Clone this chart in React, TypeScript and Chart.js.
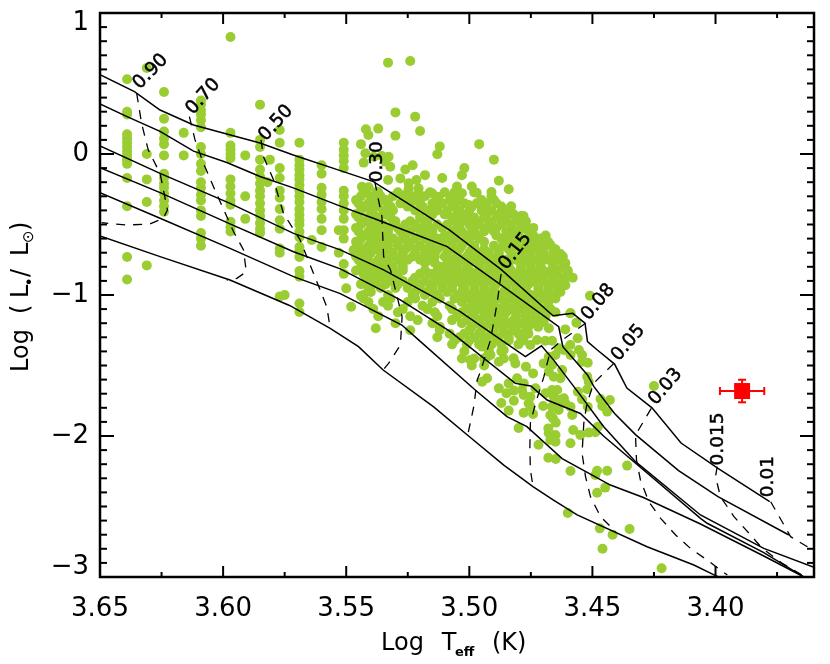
import React, { useEffect, useRef } from "react";
import { Chart, registerables } from "chart.js";

Chart.register(...registerables);

const FONT = '"DejaVu Sans", sans-serif';
const GREEN = "#9ACD32";

type P = [number, number];

// Tick values
const xMajorTicks = [3.65, 3.6, 3.55, 3.5, 3.45, 3.4];
const xMinorTicks = [3.625, 3.575, 3.525, 3.475, 3.425, 3.375];
const yMajorTicks = [1, 0, -1, -2, -3];
const yMinorTicks = [
  0.9, 0.8, 0.7, 0.6, 0.5, 0.4, 0.3, 0.2, 0.1, -0.1, -0.2, -0.3, -0.4, -0.5, -0.6, -0.7, -0.8, -0.9,
  -1.1, -1.2, -1.3, -1.4, -1.5, -1.6, -1.7, -1.8, -1.9, -2.1, -2.2, -2.3, -2.4, -2.5, -2.6, -2.7, -2.8, -2.9,
];

// Isochrones (solid)
const isoA: P[] = [[3.65,.562],[3.636,.442],[3.6256,.312],[3.612,.206],[3.5985,.142],[3.585,.078],[3.5715,-.007],[3.5524,-.118],[3.539,-.196],[3.525,-.35],[3.508,-.54],[3.487,-.82],[3.466,-1.147],[3.458,-1.13],[3.453,-1.2],[3.452,-1.33],[3.448,-1.39],[3.441,-1.49],[3.436,-1.66],[3.4258,-1.8],[3.414,-2.05],[3.399,-2.23],[3.378,-2.466]];
const isoB: P[] = [[3.65,.355],[3.639,.265],[3.6256,.16],[3.612,.02],[3.5985,-.06],[3.585,-.16],[3.5715,-.24],[3.5524,-.37],[3.539,-.456],[3.525,-.55],[3.509,-.657],[3.489,-.905],[3.4637,-1.225],[3.462,-1.367],[3.452,-1.567],[3.4494,-1.65],[3.441,-1.84],[3.4325,-1.99],[3.415,-2.246],[3.399,-2.43],[3.3702,-2.702]];
const isoC: P[] = [[3.65,.057],[3.6256,-.137],[3.5972,-.35],[3.5714,-.563],[3.5524,-.68],[3.535,-.82],[3.5037,-1.118],[3.4772,-1.437],[3.4707,-1.36],[3.4658,-1.46],[3.4549,-1.71],[3.4454,-1.934],[3.4325,-2.182],[3.4061,-2.56],[3.3804,-2.797],[3.36,-2.931]];
const isoD: P[] = [[3.65,-.097],[3.6256,-.274],[3.5972,-.496],[3.5714,-.693],[3.5524,-.815],[3.528,-1.035],[3.5077,-1.26],[3.4813,-1.627],[3.475,-1.645],[3.4684,-1.745],[3.4549,-1.84],[3.4455,-2.0],[3.434,-2.17],[3.4061,-2.584],[3.4034,-2.619],[3.3804,-2.827],[3.3654,-2.986],[3.3634,-3.01]];
const isoE: P[] = [[3.65,-.274],[3.6256,-.456],[3.5972,-.669],[3.5714,-.87],[3.5524,-.99],[3.5274,-1.213],[3.5205,-1.32],[3.4976,-1.674],[3.4847,-1.863],[3.4766,-1.934],[3.4623,-2.16],[3.4427,-2.348],[3.4293,-2.436],[3.4061,-2.624],[3.3804,-2.851],[3.3641,-3.0]];
const isoF: P[] = [[3.65,-.582],[3.6256,-.728],[3.5972,-.894],[3.5728,-1.076],[3.5565,-1.236],[3.545,-1.366],[3.535,-1.532],[3.5146,-1.792],[3.5003,-2.0],[3.486,-2.206],[3.474,-2.36],[3.4658,-2.454],[3.4562,-2.56],[3.4278,-2.785],[3.4088,-2.915],[3.4,-2.99],[3.3966,-3.014]];
const isochrones = [isoA, isoB, isoC, isoD, isoE, isoF];

// Mass tracks (dashed)
const m090: P[] = [[3.6351,.43],[3.6331,.217],[3.6304,.028],[3.6256,-.137],[3.6226,-.397],[3.6243,-.456],[3.6297,-.496],[3.6392,-.504],[3.6493,-.487]];
const m070: P[] = [[3.6137,.265],[3.6114,.1],[3.608,-.066],[3.6039,-.232],[3.5958,-.55],[3.5917,-.68],[3.5906,-.835],[3.5944,-.882],[3.5985,-.894]];
const m050: P[] = [[3.5846,.1],[3.5836,-.019],[3.5795,-.184],[3.5755,-.42],[3.5687,-.61],[3.5633,-.846],[3.5579,-1.083],[3.5565,-1.236]];
const m030: P[] = [[3.5384,-.196],[3.5355,-.444],[3.5348,-.728],[3.532,-.823],[3.5273,-1.154],[3.528,-1.355],[3.5328,-1.485],[3.535,-1.532]];
const m015: P[] = [[3.4871,-.851],[3.4887,-1.059],[3.4914,-1.319],[3.4955,-1.544],[3.4968,-1.603],[3.4982,-1.792],[3.5005,-1.981]];
const m008: P[] = [[3.4528,-1.2],[3.4623,-1.32],[3.467,-1.39],[3.4697,-1.579],[3.4731,-1.768],[3.4752,-1.91],[3.4754,-2.076],[3.4752,-2.24],[3.4741,-2.36]];
const m005: P[] = [[3.4413,-1.485],[3.4495,-1.626],[3.4522,-1.768],[3.4535,-1.91],[3.4542,-2.123],[3.4528,-2.288],[3.4508,-2.43],[3.4467,-2.572],[3.4406,-2.678]];
const m003: P[] = [[3.4261,-1.804],[3.4325,-1.993],[3.4321,-2.17],[3.4305,-2.312],[3.4271,-2.466],[3.4223,-2.584],[3.4162,-2.702],[3.4102,-2.797],[3.4034,-2.88],[3.3952,-2.986]];
const m0015: P[] = [[3.3993,-2.217],[3.4,-2.288],[3.398,-2.43],[3.3925,-2.572],[3.3864,-2.69],[3.381,-2.797],[3.3729,-2.903],[3.3648,-2.986]];
const m001: P[] = [[3.3776,-2.466],[3.3749,-2.548],[3.3695,-2.714],[3.3627,-2.785],[3.36,-2.82]];
const massTracks = [m090, m070, m050, m030, m015, m008, m005, m003, m0015, m001];

// Mass labels
const massLabels = ["0.90", "0.70", "0.50", "0.30", "0.15", "0.08", "0.05", "0.03", "0.015", "0.01"];
const massLabelX = [3.6294, 3.6081, 3.5785, 3.5375, 3.4813, 3.4476, 3.4354, 3.4203, 3.3988, 3.3785];
const massLabelY = [0.584, 0.407, 0.219, -0.055, -0.69, -1.05, -1.339, -1.651, -2.021, -2.288];
const massLabelDeg = [-46, -48, -48, -90, -52, -50, -50, -50, -90, -90];

// Stars in vertical strips (cool side): temperature, then luminosities
const strips: [number, number[]][] = [
  [3.639, [.53,.3,.28,.14,.11,.08,.05,.02,-.01,-.04,-.07,-.17,-.37,-.73,-.89]],
  [3.631, [.61,0,-.18,-.34,-.79]],
  [3.624, [.44,.25,.16,.11,.07,-.01,-.14,-.17,-.21,-.24,-.28,-.33,-.37,-.41]],
  [3.616, [.15,-.01]],
  [3.609, [.38,.35,.31,.28,.24,.19,.05,0,-.07,-.12,-.2,-.24,-.29,-.33,-.4,-.44,-.56,-.6,-.65]],
  [3.597, [.83,.15,.06,.03,0,-.03,-.18,-.23,-.28,-.33,-.36,-.48,-.52,-.55]],
  [3.591, [-.01,-.3,-.46]],
  [3.585, [.35,.1,.05,-.04,-.11,-.16,-.21,-.26,-.3,-.35,-.4,-.44,-.49,-.53,-.56]],
  [3.581, [-.04]],
  [3.582, [-.2]],
  [3.577, [.17,.08,-.1,-.17,-.26,-.31,-.39,-.47,-.53,-.67,-.7,-1.01]],
  [3.575, [-1.0]],
  [3.569, [.08,-.04,-.08,-.11,-.15,-.18,-.22,-.26,-.3,-.34,-.39,-.43,-.47,-.5,-.55,-.59,-.66,-.69,-.73,-.83,-.87,-1.06,-1.12]],
  [3.564, [-.61]],
  [3.56, [-.08,-.14,-.24,-.29,-.34,-.39,-.46,-.54,-.66]],
  [3.553, [-.54,-.7]],
  [3.551, [.08,.03,-.01,-.05,-.1,-.26,-.3,-.35,-.4,-.46,-.54,-.6,-.78,-.85]],
];

// Dense part of the cloud: luminosity, then temperatures
const cloudRows: [number, number[]][] = [
  [-.272, [3.543,3.537,3.529,3.525,3.516,3.51,3.506,3.498]],
  [-.30, [3.544,3.54,3.536,3.531,3.527,3.523,3.518]],
  [-.327, [3.546,3.539,3.534,3.526,3.521,3.513,3.508,3.504,3.495,3.49]],
  [-.35, [3.545,3.541,3.537,3.533,3.528,3.524,3.52,3.515,3.511,3.507,3.502,3.497,3.493,3.489]],
  [-.373, [3.543,3.538,3.532,3.525,3.519,3.514,3.506,3.499,3.494,3.487]],
  [-.40, [3.544,3.54,3.535,3.531,3.522,3.517,3.513,3.509,3.504,3.5,3.495,3.491,3.486,3.484]],
  [-.428, [3.546,3.539,3.534,3.515,3.51,3.505,3.501,3.493,3.488,3.482]],
  [-.45, [3.545,3.541,3.537,3.532,3.52,3.516,3.507,3.503,3.498,3.494,3.489,3.485,3.481]],
  [-.477, [3.542,3.537,3.53,3.524,3.517,3.506,3.501,3.497,3.492,3.486,3.48,3.477]],
  [-.50, [3.544,3.54,3.535,3.531,3.526,3.522,3.518,3.513,3.509,3.504,3.5,3.496,3.491,3.487,3.483,3.479]],
  [-.524, [3.546,3.538,3.533,3.529,3.521,3.516,3.511,3.505,3.499,3.493,3.489,3.483,3.478,3.474]],
  [-.55, [3.545,3.541,3.537,3.533,3.528,3.524,3.519,3.515,3.507,3.503,3.498,3.494,3.49,3.485,3.481,3.476]],
  [-.578, [3.542,3.538,3.533,3.526,3.52,3.516,3.51,3.506,3.501,3.497,3.489,3.484,3.48,3.474,3.469]],
  [-.60, [3.544,3.54,3.536,3.531,3.527,3.522,3.518,3.513,3.509,3.505,3.5,3.496,3.487,3.483,3.479,3.475,3.471]],
  [-.623, [3.546,3.539,3.534,3.529,3.525,3.515,3.511,3.507,3.502,3.494,3.485,3.481,3.476,3.472,3.468]],
  [-.65, [3.545,3.541,3.537,3.533,3.529,3.524,3.52,3.516,3.511,3.507,3.503,3.498,3.49,3.486,3.481,3.477,3.473,3.469]],
  [-.676, [3.543,3.538,3.534,3.526,3.522,3.517,3.513,3.508,3.504,3.499,3.494,3.488,3.484,3.478,3.474,3.47,3.465]],
  [-.70, [3.544,3.54,3.535,3.531,3.527,3.522,3.518,3.514,3.509,3.505,3.5,3.496,3.492,3.488,3.483,3.479,3.475,3.471,3.466]],
  [-.727, [3.546,3.542,3.536,3.531,3.527,3.523,3.518,3.514,3.51,3.505,3.501,3.497,3.492,3.488,3.483,3.479,3.475,3.47,3.466,3.462]],
  [-.75, [3.545,3.541,3.537,3.533,3.529,3.525,3.52,3.516,3.507,3.503,3.499,3.494,3.49,3.486,3.481,3.477,3.473,3.468,3.464]],
  [-.773, [3.543,3.538,3.534,3.527,3.518,3.514,3.509,3.505,3.5,3.496,3.492,3.488,3.484,3.479,3.475,3.471,3.466,3.461]],
  [-.80, [3.544,3.54,3.535,3.531,3.527,3.512,3.508,3.505,3.501,3.496,3.492,3.488,3.484,3.479,3.475,3.471,3.466,3.462]],
  [-.826, [3.546,3.541,3.537,3.532,3.527,3.518,3.513,3.509,3.505,3.5,3.496,3.491,3.487,3.483,3.479,3.474,3.47,3.465,3.46]],
  [-.85, [3.543,3.539,3.534,3.529,3.52,3.516,3.511,3.507,3.503,3.498,3.494,3.49,3.485,3.481,3.477,3.473,3.468,3.464,3.46]],
  [-.877, [3.541,3.536,3.531,3.522,3.514,3.509,3.505,3.501,3.496,3.492,3.487,3.483,3.479,3.475,3.471,3.466,3.461,3.458]],
  [-.90, [3.542,3.538,3.532,3.527,3.523,3.518,3.513,3.509,3.505,3.5,3.496,3.492,3.488,3.483,3.479,3.474,3.47,3.466,3.462]],
  [-.923, [3.544,3.539,3.534,3.529,3.521,3.516,3.511,3.507,3.503,3.498,3.494,3.489,3.485,3.481,3.476,3.472,3.467,3.463]],
  [-.95, [3.541,3.536,3.53,3.525,3.52,3.515,3.511,3.507,3.502,3.498,3.494,3.49,3.485,3.481,3.477,3.472,3.468,3.464]],
  [-.978, [3.54,3.522,3.517,3.515,3.509,3.503,3.498,3.494,3.49,3.486,3.481,3.477,3.472,3.468,3.463]],
  [-1.0, [3.543,3.533,3.523,3.518,3.513,3.505,3.5,3.496,3.492,3.488,3.483,3.479,3.475,3.47,3.466]],
  [-1.024, [3.543,3.532,3.522,3.512,3.506,3.501,3.496,3.492,3.487,3.483,3.479,3.474,3.47,3.465]],
  [-1.05, [3.541,3.535,3.525,3.515,3.503,3.498,3.494,3.49,3.485,3.481,3.477,3.473,3.468]],
  [-1.076, [3.533,3.519,3.508,3.499,3.494,3.49,3.486,3.481,3.477,3.472,3.468]],
  [-1.10, [3.539,3.527,3.517,3.507,3.501,3.496,3.492,3.488,3.483,3.479,3.475,3.471,3.467]],
  [-1.123, [3.529,3.514,3.503,3.498,3.493,3.489,3.485,3.481,3.477,3.473,3.469,3.465]],
  [-1.15, [3.537,3.524,3.513,3.505,3.499,3.494,3.49,3.486,3.481,3.477,3.473,3.469]],
  [-1.178, [3.521,3.507,3.501,3.496,3.491,3.487,3.482,3.477,3.474,3.47]],
  [-1.20, [3.53,3.515,3.503,3.497,3.492,3.488,3.484,3.479,3.475,3.471]],
  [-1.226, [3.512,3.499,3.494,3.49,3.486,3.481,3.476,3.472]],
  [-1.25, [3.524,3.512,3.5,3.495,3.49,3.486,3.482,3.477]],
  [-1.274, [3.508,3.502,3.496,3.491,3.485,3.48,3.476]],
  [-1.30, [3.513,3.504,3.498,3.493,3.488,3.484,3.479]],
  [-1.322, [3.506,3.5,3.494,3.489,3.484,3.478]],
  [-1.35, [3.507,3.501,3.496,3.491,3.487,3.48]],
  [-1.40, [3.502,3.492,3.487]],
  [-1.45, [3.503,3.498,3.494,3.486]],
  [-1.50, [3.499,3.494]],
];

// Scattered stars
const scattered: P[] = [
  [3.533,.648],[3.524,.66],[3.53,.295],[3.522,.265],[3.52,.163],[3.53,.13],[3.537,.18],[3.542,.175],[3.541,.135],[3.544,.07],[3.512,.054],[3.513,-.002],[3.496,.07],[3.49,-.04],[3.502,-.1],[3.503,-.15],[3.523,-.08],[3.526,-.11],[3.518,-.15],[3.511,-.17],[3.488,-.19],[3.484,-.25],[3.505,-.23],[3.499,-.23],[3.497,-.275],[3.491,-.27],[3.491,-.3],[3.483,-.37],[3.479,-.44],[3.478,-.44],[3.477,-.53],[3.467,-.645],[3.463,-.71],[3.47,-.7],[3.466,-.75],[3.467,-.83],[3.461,-.93],[3.451,-1.005],[3.459,-1.13],
  [3.5422,.005],[3.5429,-.061],[3.5388,-.019],[3.5355,-.014],[3.5328,-.019],[3.5341,-.054],[3.5321,-.09],[3.533,-.184],[3.528,-.173],[3.5246,-.208],[3.5215,-.184],[3.5246,-.244],[3.5206,-.244],[3.5206,-.284],[3.5151,-.279],[3.5124,-.303],[3.507,-.303],[3.503,-.279],[3.5002,-.362],[3.5057,-.326],[3.5436,-.232],[3.5409,-.236],[3.5382,-.338],[3.5375,-.267],
  [3.547,-.681],[3.55,-.953],[3.544,-1.007],[3.548,-1.083],[3.538,-1.236],[3.4996,-1.461],[3.4928,-1.437],
  [3.4589,-1.13],[3.4565,-1.196],[3.461,-1.244],[3.456,-1.307],[3.459,-1.355],[3.4555,-1.39],[3.4616,-1.39],[3.4589,-1.426],[3.4542,-1.426],[3.4542,-1.473],[3.4519,-1.48],[3.4521,-1.579],[3.4515,-1.615],[3.4521,-1.669],[3.4559,-1.686],[3.4542,-1.74],[3.4467,-1.738],[3.4429,-1.745],[3.4519,-1.792],[3.446,-1.787],[3.444,-1.827],[3.4478,-1.934],[3.4578,-1.958],[3.4549,-1.993],[3.4515,-1.976],[3.4488,-1.974],[3.4589,-2.052],
  [3.4679,-1.946],[3.4677,-1.981],[3.465,-1.993],[3.4671,-2.028],[3.465,-2.04],[3.4719,-2.062],[3.4679,-2.154],[3.4649,-2.163],[3.4589,-2.248],[3.4481,-2.246],[3.4488,-2.277],[3.444,-2.246],[3.4359,-2.21],[3.4448,-2.366],[3.4481,-2.402],[3.46,-2.546],[3.447,-2.655],[3.4418,-2.7],[3.4349,-2.66],[3.4459,-2.8],[3.4219,-2.938],[3.425,-1.645],
  [3.48,-1.943],[3.4779,-1.835],[3.4741,-1.844],[3.484,-1.82],[3.487,-1.766],[3.4819,-1.75],[3.488,-1.662],[3.4849,-1.697],[3.4819,-1.678],[3.4786,-1.674],[3.4779,-1.709],[3.4752,-1.721],[3.4759,-1.768],[3.4752,-1.792],[3.4731,-1.662],[3.47,-1.787],[3.469,-1.697],[3.4664,-1.674],[3.4643,-1.674],[3.4657,-1.721],[3.4637,-1.745],[3.4616,-1.733],[3.461,-1.768],[3.4664,-1.792],[3.4637,-1.816],[3.4671,-1.851],[3.466,-1.875],[3.4649,-1.905],[3.4589,-1.792],[3.4582,-1.851],
  [3.484,-1.627],[3.4806,-1.591],[3.4779,-1.627],[3.4928,-1.591],[3.4948,-1.615],[3.477,-1.508],[3.4741,-1.556],[3.482,-1.449],[3.4813,-1.485],[3.486,-1.39],[3.488,-1.473],[3.4914,-1.426],[3.4948,-1.366],[3.4698,-1.485],[3.4664,-1.497],[3.4677,-1.544],[3.4657,-1.579],[3.463,-1.591],[3.4623,-1.532],[3.465,-1.426],[3.4677,-1.438],[3.4725,-1.319],[3.4691,-1.324],[3.4664,-1.324],[3.4752,-1.355],[3.4637,-1.378],[3.4677,-1.236],[3.4698,-1.19],[3.4738,-1.177],
];

// The red object with its error bars
const redX = 3.3892;
const redY = -1.681;
const redErrX = 0.009;
const redErrY = 0.08;

const toXY = (pts: P[]) => pts.map(([x, y]) => ({ x, y }));
const greenPoints = [
  ...strips.flatMap(([x, ys]) => ys.map((y) => ({ x, y }))),
  ...cloudRows.flatMap(([y, xs]) => xs.map((x) => ({ x, y }))),
  ...toXY(scattered),
];

const framePlugin = {
  id: "frame",
  afterDatasetsDraw(chart: any) {
    const { ctx, chartArea: a, scales } = chart;
    const sx = scales.x;
    const sy = scales.y;
    ctx.save();
    ctx.strokeStyle = "#000";
    ctx.fillStyle = "#000";

    ctx.lineWidth = 2;
    const seg = (x1: number, y1: number, x2: number, y2: number) => {
      ctx.beginPath();
      ctx.moveTo(x1, y1);
      ctx.lineTo(x2, y2);
      ctx.stroke();
    };
    const xt = (v: number, len: number) => {
      const p = sx.getPixelForValue(v);
      seg(p, a.bottom, p, a.bottom - len);
      seg(p, a.top, p, a.top + len);
    };
    const yt = (v: number, len: number) => {
      const p = sy.getPixelForValue(v);
      seg(a.left, p, a.left + len, p);
      seg(a.right, p, a.right - len, p);
    };
    xMajorTicks.forEach((v) => xt(v, 11));
    xMinorTicks.forEach((v) => xt(v, 5));
    yMajorTicks.forEach((v) => yt(v, 14));
    yMinorTicks.forEach((v) => yt(v, 7));

    ctx.lineWidth = 2.5;
    ctx.strokeRect(a.left, a.top, a.right - a.left, a.bottom - a.top);

    // mass labels
    ctx.font = `18.5px ${FONT}`;
    ctx.textAlign = "center";
    ctx.textBaseline = "middle";
    ctx.lineWidth = 0.5;
    massLabels.forEach((t, i) => {
      ctx.save();
      ctx.translate(sx.getPixelForValue(massLabelX[i]), sy.getPixelForValue(massLabelY[i]));
      ctx.rotate((massLabelDeg[i] * Math.PI) / 180);
      ctx.fillText(t, 0, 0);
      ctx.strokeText(t, 0, 0);
      ctx.restore();
    });

    // axis titles
    ctx.textAlign = "left";
    ctx.textBaseline = "alphabetic";
    const put = (t: string, font: string, x: number, y: number) => {
      ctx.font = font;
      ctx.fillText(t, x, y);
    };
    const main = `24px ${FONT}`;
    put("Log", main, 381, 650);
    put("T", main, 441.7, 650);
    put("eff", `bold 13px ${FONT}`, 455, 656);
    put("(K)", main, 492, 650);

    ctx.save();
    ctx.translate(27.5, 0);
    ctx.rotate(-Math.PI / 2);
    put("Log", main, -372, 0);
    put("(", main, -314, 0);
    put("L", main, -298, 0);
    put("\u2022", `16px ${FONT}`, -286.5, 7);
    put("/", main, -277, 0);
    put("L", main, -256, 0);
    put("\u2299", `15px ${FONT}`, -243, 5);
    put(")", main, -231, 0);
    ctx.restore();
    ctx.restore();
  },
};

export default function App() {
  const ref = useRef<HTMLCanvasElement>(null);
  useEffect(() => {
    if (!ref.current) return;
    const lineBase = { showLine: true, pointRadius: 0, tension: 0, borderColor: "#000", fill: false };
    const chart = new Chart(ref.current, {
      type: "scatter",
      data: {
        datasets: [
          { data: greenPoints, pointRadius: 5, pointBackgroundColor: GREEN, pointBorderWidth: 0, backgroundColor: GREEN, order: 10 },
          ...isochrones.map((pts) => ({ ...lineBase, data: toXY(pts), borderWidth: 1.5, order: 5 })),
          ...massTracks.map((pts) => ({ ...lineBase, data: toXY(pts), borderWidth: 1.3, borderDash: [9, 8], order: 4 })),
          { data: [{ x: redX - redErrX, y: redY }, { x: redX + redErrX, y: redY }], showLine: true, borderColor: "#FF0000", borderWidth: 2, pointStyle: "line", pointRotation: 90, pointRadius: 4, pointBorderColor: "#FF0000", pointBorderWidth: 2, order: 2 },
          { data: [{ x: redX, y: redY - redErrY }, { x: redX, y: redY + redErrY }], showLine: true, borderColor: "#FF0000", borderWidth: 2, pointStyle: "line", pointRotation: 0, pointRadius: 4, pointBorderColor: "#FF0000", pointBorderWidth: 2, order: 2 },
          { data: [{ x: redX, y: redY }], pointStyle: "rect", pointRadius: 11.3, pointBackgroundColor: "#FF0000", pointBorderWidth: 0, order: 1 },
        ] as any,
      },
      options: {
        responsive: false,
        animation: false,
        devicePixelRatio: 1,
        layout: { padding: { top: 13, right: 16, left: 0, bottom: 0 } },
        plugins: { legend: { display: false }, tooltip: { enabled: false }, title: { display: false } },
        scales: {
          x: {
            type: "linear",
            reverse: true,
            min: 3.36,
            max: 3.65,
            grid: { display: false, drawTicks: false },
            border: { display: false },
            afterBuildTicks: (s: any) => { s.ticks = xMajorTicks.map((value) => ({ value })); },
            afterFit: (s: any) => { s.height = 87; s.paddingLeft = 0; s.paddingRight = 0; },
            ticks: {
              autoSkip: false,
              maxRotation: 0,
              padding: 17,
              color: "#000",
              font: { family: FONT, size: 26 },
              callback: (v: any) => Number(v).toFixed(2),
            },
          },
          y: {
            type: "linear",
            min: -3,
            max: 1,
            grid: { display: false, drawTicks: false },
            border: { display: false },
            afterBuildTicks: (s: any) => { s.ticks = yMajorTicks.map((value) => ({ value })); },
            afterFit: (s: any) => { s.width = 100; s.paddingTop = 0; s.paddingBottom = 0; },
            ticks: {
              autoSkip: false,
              padding: 11,
              color: "#000",
              font: { family: FONT, size: 26, lineHeight: 0.75 },
              callback: (v: any) => {
                const n = Number(v);
                const t = n < 0 ? `\u2212${-n}` : `${n}`;
                if (n === 1) return ["", t];
                if (n === -3) return [t, ""];
                return t;
              },
            },
          },
        },
      } as any,
      plugins: [framePlugin],
    });
    return () => chart.destroy();
  }, []);
  return <canvas ref={ref} width={830} height={664} style={{ position: "absolute", left: 0, top: 0, display: "block" }} />;
}
